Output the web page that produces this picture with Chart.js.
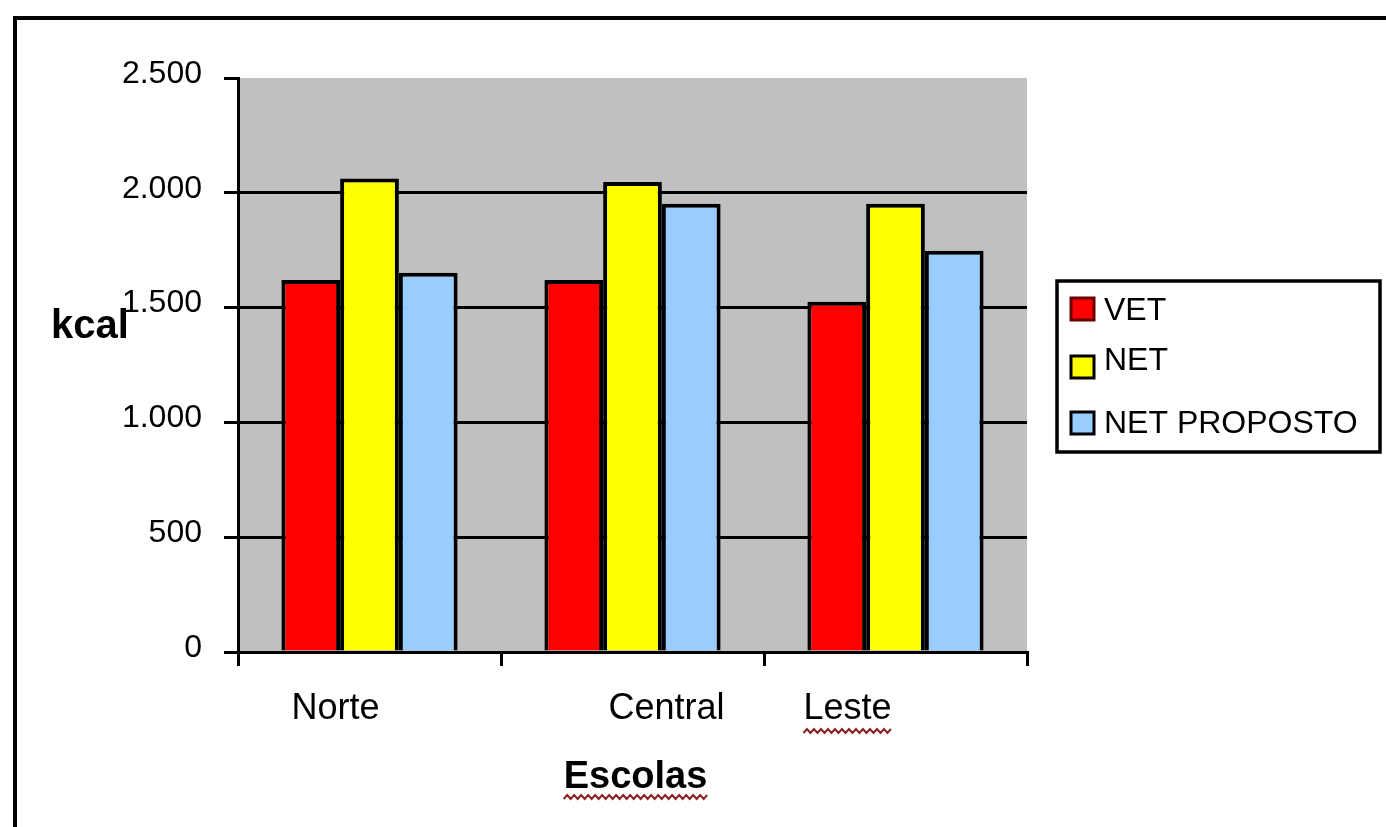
<!DOCTYPE html>
<html>
<head>
<meta charset="utf-8">
<script src="https://cdn.jsdelivr.net/npm/chart.js@4/dist/chart.umd.min.js"></script>
<style>
  html, body { margin: 0; padding: 0; background: #ffffff; overflow: hidden; }
  #c { display: block; }
</style>
</head>
<body>
<canvas id="c" width="1386" height="827"></canvas>
<script>
// ---- data ----
const categories = ['Norte', 'Central', 'Leste'];
const seriesNames = ['VET', 'NET', 'NET PROPOSTO'];
const vet = [1620, 1620, 1525];
const net = [2062, 2047, 1952];
const netProposto = [1652, 1952, 1748];
const yTickLabels = ['0', '500', '1.000', '1.500', '2.000', '2.500'];
const yTitle = 'kcal';
const xTitle = 'Escolas';

// ---- styles ----
const FONT = '"Liberation Sans", Arial, sans-serif';
const colors = ['#FF0000', '#FFFF00', '#99CCFF'];
const legendBorders = ['#6a0000', '#000000', '#000000'];
const catLabelShift = [-34, 34, -48];
const legendSquareTop = [298, 356, 412];
const legendBaseline = [320, 370, 433];

function squiggle(ctx, x0, x1, y) {
  ctx.save();
  ctx.strokeStyle = '#8a2323';
  ctx.lineWidth = 2;
  ctx.beginPath();
  let up = true;
  ctx.moveTo(x0, y);
  for (let x = x0 + 3.5; x <= x1; x += 3.5) {
    ctx.lineTo(x, up ? y - 4 : y);
    up = !up;
  }
  ctx.stroke();
  ctx.restore();
}

const decor = {
  id: 'decor',
  beforeDraw(chart) {
    const { ctx, chartArea: a } = chart;
    ctx.save();
    ctx.fillStyle = '#ffffff';
    ctx.fillRect(0, 0, chart.width, chart.height);
    ctx.fillStyle = '#C0C0C0';
    ctx.fillRect(a.left, a.top, a.right - a.left, a.bottom - a.top);
    ctx.restore();
  },
  afterDraw(chart) {
    const { ctx, chartArea: a } = chart;
    const xs = chart.scales.x;
    ctx.save();
    // outer frame
    ctx.strokeStyle = '#000';
    ctx.lineWidth = 4;
    ctx.beginPath();
    ctx.moveTo(15, chart.height);
    ctx.lineTo(15, 18);
    ctx.lineTo(chart.width, 18);
    ctx.stroke();

    // y title (horizontal)
    ctx.fillStyle = '#000';
    ctx.font = 'bold 40px ' + FONT;
    ctx.textAlign = 'left';
    ctx.textBaseline = 'alphabetic';
    ctx.fillText(yTitle, 51, 338);

    // category labels
    ctx.font = '36px ' + FONT;
    ctx.textAlign = 'center';
    categories.forEach((c, i) => {
      const x = xs.getPixelForValue(i) + catLabelShift[i];
      ctx.fillText(c, x, 719);
      if (c === 'Leste') {
        const w = ctx.measureText(c).width;
        squiggle(ctx, x - w / 2, x + w / 2, 733);
      }
    });

    // x title
    ctx.font = 'bold 38px ' + FONT;
    const cx = (a.left + a.right) / 2 + 3;
    ctx.fillText(xTitle, cx, 788);
    const tw = ctx.measureText(xTitle).width;
    squiggle(ctx, cx - tw / 2, cx + tw / 2, 799);

    // legend
    ctx.lineWidth = 3.5;
    ctx.strokeStyle = '#000';
    ctx.strokeRect(1057, 281, 323, 171);
    ctx.font = '32px ' + FONT;
    ctx.textAlign = 'left';
    chart.data.datasets.forEach((ds, i) => {
      ctx.fillStyle = ds.backgroundColor;
      ctx.fillRect(1071, legendSquareTop[i], 23, 22);
      ctx.lineWidth = 3;
      ctx.strokeStyle = legendBorders[i];
      ctx.strokeRect(1071, legendSquareTop[i], 23, 22);
      ctx.fillStyle = '#000';
      ctx.fillText(ds.label, 1104, legendBaseline[i]);
    });
    ctx.restore();
  }
};

const seriesData = [vet, net, netProposto];

new Chart(document.getElementById('c'), {
  type: 'bar',
  data: {
    labels: categories,
    datasets: seriesNames.map((n, i) => ({
      label: n,
      data: seriesData[i],
      backgroundColor: colors[i],
      borderColor: '#000000',
      borderWidth: 4,
      categoryPercentage: 0.67,
      barPercentage: 1.0
    }))
  },
  options: {
    responsive: false,
    animation: false,
    devicePixelRatio: 1,
    layout: { padding: { top: 78, right: 359, left: 0, bottom: 0 } },
    plugins: {
      legend: { display: false },
      tooltip: { enabled: false },
      title: { display: false }
    },
    scales: {
      x: {
        offset: true,
        afterFit(s) { s.height = 175; },
        ticks: { display: false },
        grid: {
          offset: true,
          drawOnChartArea: false,
          drawTicks: true,
          tickLength: 14,
          color: '#000',
          lineWidth: 3
        },
        border: { display: true, color: '#000', width: 3 }
      },
      y: {
        min: 0,
        max: 2500,
        afterFit(s) { s.width = 238; },
        ticks: {
          stepSize: 500,
          padding: 22,
          labelOffset: -4,
          color: '#000',
          font: { family: FONT, size: 32 },
          callback: (v, i) => yTickLabels[i]
        },
        grid: {
          color: (c) => (c.tick && c.tick.value === 2500) ? 'rgba(0,0,0,0)' : '#000',
          tickColor: '#000',
          lineWidth: 3,
          tickLength: 14
        },
        border: { display: true, color: '#000', width: 3 }
      }
    }
  },
  plugins: [decor]
});
</script>
</body>
</html>
